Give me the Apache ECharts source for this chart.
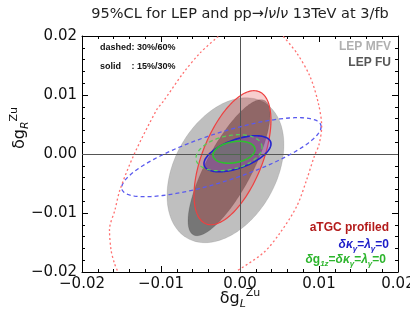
<!DOCTYPE html>
<html><head><meta charset="utf-8">
<script src="https://cdn.jsdelivr.net/npm/echarts@6/dist/echarts.min.js"></script>
<style>html,body{margin:0;padding:0;background:#fff}#c{width:410px;height:323px}</style>
</head><body><div id="c"></div>
<script>
// axis
const axisMin = -0.02, axisMax = 0.02, axisStep = 0.01;
const tickLabels = ['\u22120.02', '\u22120.01', '0.00', '0.01', '0.02'];

// ellipses: [centerX, centerY, halfWidthX, halfHeightY, correlation]
const lepMFV    = [-0.00184, -0.00275, 0.0074,  0.01229, 0.35];
const lepFU     = [-0.00139, -0.00232, 0.00519, 0.01153, 0.78];
const atgcSolid = [-0.00095, -0.00063, 0.00487, 0.01136, 0.56];
const kgSolid   = [-0.00032,  0.00004, 0.00424, 0.00305, 0.55];
const kgDashed  = [-0.00235, -0.00054, 0.01262, 0.0067,  0.77];
const g1zSolid  = [-0.00076,  0.0003,  0.00266, 0.00186, 0.25];
const g1zDashed = [-0.00139,  0.00022, 0.00418, 0.00305, 0.30];

// aTGC profiled, 60% (dotted) contour, traced points [x, y]
const atgcDottedLeft = [
  [-0.00275, 0.01993], [-0.00506, 0.01712], [-0.00718, 0.01373], [-0.00971, 0.00892],
  [-0.01054, 0.00751], [-0.01338, 0.0], [-0.01519, -0.00605], [-0.01582, -0.00944],
  [-0.01652, -0.01283], [-0.01633, -0.01622], [-0.01591, -0.01847], [-0.01548, -0.0199]
];
const atgcDottedRight = [
  [0.00548, 0.01993], [0.00718, 0.01712], [0.00886, 0.01315], [0.00991, 0.00864],
  [0.01034, 0.00468], [0.01000, 0.00158], [0.00940, -0.00041], [0.00844, -0.00436],
  [0.00718, -0.00888], [0.00506, -0.01339], [0.00295, -0.01678], [-0.00051, -0.0199]
];

function ellipseSeries(name, params, style, z) {
  return {
    type: 'custom', name: name, z: z,
    dimensions: ['x', 'y', 'sx', 'sy', 'rho'],
    encode: { x: 0, y: 1 },
    data: [params],
    silent: true,
    renderItem: function (p, api) {
      const cx = api.value(0), cy = api.value(1), sx = api.value(2), sy = api.value(3), r = api.value(4);
      const s = Math.sqrt(1 - r * r);
      const pts = [];
      const N = 160;
      for (let i = 0; i < N; i++) {
        const t = 2 * Math.PI * i / N;
        pts.push(api.coord([cx + sx * Math.cos(t), cy + sy * (r * Math.cos(t) + s * Math.sin(t))]));
      }
      return { type: 'polygon', shape: { points: pts }, style: Object.assign({}, style) };
    }
  };
}

const FONT = 'DejaVu Sans';
const AR = 'Liberation Sans';
const fmt = function (v) { return tickLabels[Math.round((v - axisMin) / axisStep)]; };

function axisCommon(extra) {
  return Object.assign({
    type: 'value', min: axisMin, max: axisMax, interval: axisStep,
    axisLine: { show: true, onZero: false, lineStyle: { color: '#000', width: 1 } },
    axisTick: { show: true, inside: true, length: 6, lineStyle: { color: '#000', width: 1 } },
    minorTick: { show: true, splitNumber: 5, length: 3, lineStyle: { color: '#000', width: 1 } },
    splitLine: { show: false },
    minorSplitLine: { show: false }
  }, extra);
}

const option = {
  animation: false,
  backgroundColor: '#fff',
  grid: { left: 82, right: 12, top: 36, bottom: 51, containLabel: false, outerBoundsMode: 'none' },
  xAxis: [
    axisCommon({ position: 'bottom', axisLabel: { show: true, margin: 5, fontFamily: FONT, fontSize: 15, color: '#111', formatter: fmt } }),
    axisCommon({ position: 'top', axisLabel: { show: false } })
  ],
  yAxis: [
    axisCommon({ position: 'left', axisLabel: { show: true, margin: 5, fontFamily: FONT, fontSize: 15, color: '#111', formatter: fmt } }),
    axisCommon({ position: 'right', axisLabel: { show: false } })
  ],
  series: [
    ellipseSeries('LEP MFV', lepMFV, { fill: 'rgba(0,0,0,0.25)', stroke: 'rgba(0,0,0,0.12)', lineWidth: 0.8 }, 1),
    ellipseSeries('LEP FU', lepFU, { fill: 'rgba(0,0,0,0.38)', stroke: 'rgba(0,0,0,0.15)', lineWidth: 0.8 }, 2),
    ellipseSeries('aTGC profiled', atgcSolid, { fill: 'rgba(225,60,60,0.25)', stroke: '#ee4040', lineWidth: 1.2 }, 3),
    ellipseSeries('kg solid', kgSolid, { fill: 'rgba(110,60,230,0.28)', stroke: '#2323cc', lineWidth: 1.6 }, 4),
    ellipseSeries('g1z solid', g1zSolid, { fill: 'rgba(60,170,60,0.22)', stroke: '#2fbf2f', lineWidth: 1.6 }, 5),
    ellipseSeries('kg dashed', kgDashed, { fill: 'none', stroke: '#5a5aee', lineWidth: 1.3, lineDash: [4, 3] }, 6),
    ellipseSeries('g1z dashed', g1zDashed, { fill: 'none', stroke: '#55cc55', lineWidth: 1.3, lineDash: [4, 3] }, 6),
    {
      type: 'line', name: 'aTGC dotted L', data: atgcDottedLeft, smooth: 0.3, showSymbol: false, symbol: 'none',
      clip: true, z: 7, silent: true,
      lineStyle: { color: '#ff7070', width: 1.3, type: [2, 2.5] }
    },
    {
      type: 'line', name: 'aTGC dotted R', data: atgcDottedRight, smooth: 0.3, showSymbol: false, symbol: 'none',
      clip: true, z: 7, silent: true,
      lineStyle: { color: '#ff7070', width: 1.3, type: [2, 2.5] },
      markLine: {
        silent: true, symbol: 'none', label: { show: false }, animation: false,
        lineStyle: { color: '#555', width: 1, type: 'solid' },
        data: [{ xAxis: 0 }, { yAxis: 0 }]
      }
    }
  ],
  graphic: [
    { type: 'text', x: 240, y: 14, z: 100, style: {
      text: '{n|95%CL for LEP and pp\u2192}{i|l\u03bdl\u03bd}{n| 13TeV at 3/fb}',
      align: 'center', verticalAlign: 'middle', textAlign: 'center', textVerticalAlign: 'middle',
      rich: { n: { fontFamily: FONT, fontSize: 14.5, fill: '#222', color: '#222' },
              i: { fontFamily: FONT, fontSize: 14.5, fontStyle: 'italic', fill: '#222', color: '#222' } } } },
    { type: 'text', x: 100, y: 48, z: 100, style: { text: 'dashed: 30%/60%', fontFamily: AR, fontWeight: 'bold', fontSize: 9, fill: '#111',
      align: 'left', verticalAlign: 'middle', textAlign: 'left', textVerticalAlign: 'middle' } },
    { type: 'text', x: 100, y: 67, z: 100, style: { text: 'solid', fontFamily: AR, fontWeight: 'bold', fontSize: 9, fill: '#111',
      align: 'left', verticalAlign: 'middle', textAlign: 'left', textVerticalAlign: 'middle' } },
    { type: 'text', x: 131.5, y: 67, z: 100, style: { text: ': 15%/30%', fontFamily: AR, fontWeight: 'bold', fontSize: 9, fill: '#111',
      align: 'left', verticalAlign: 'middle', textAlign: 'left', textVerticalAlign: 'middle' } },
    { type: 'text', x: 391, y: 47, z: 100, style: { text: 'LEP MFV', fontFamily: AR, fontWeight: 'bold', fontSize: 12, fill: '#b0b0b0',
      align: 'right', verticalAlign: 'middle', textAlign: 'right', textVerticalAlign: 'middle' } },
    { type: 'text', x: 391, y: 63, z: 100, style: { text: 'LEP FU', fontFamily: AR, fontWeight: 'bold', fontSize: 12, fill: '#555',
      align: 'right', verticalAlign: 'middle', textAlign: 'right', textVerticalAlign: 'middle' } },
    { type: 'text', x: 389, y: 228, z: 100, style: { text: 'aTGC profiled', fontFamily: AR, fontWeight: 'bold', fontSize: 12, fill: '#b31b1b',
      align: 'right', verticalAlign: 'middle', textAlign: 'right', textVerticalAlign: 'middle' } },
    { type: 'text', x: 389, y: 245, z: 100, style: {
      text: '{g|\u03b4\u03ba}{s|\u03b3}{n|=}{g|\u03bb}{s|\u03b3}{n|=0}',
      align: 'right', verticalAlign: 'middle', textAlign: 'right', textVerticalAlign: 'middle',
      rich: {
        g: { fontFamily: AR, fontWeight: 'bold', fontStyle: 'italic', fontSize: 12, fill: '#1c1cc8', color: '#1c1cc8', lineHeight: 16, verticalAlign: 'middle' },
        n: { fontFamily: AR, fontWeight: 'bold', fontSize: 12, fill: '#1c1cc8', color: '#1c1cc8', lineHeight: 16, verticalAlign: 'middle' },
        s: { fontFamily: AR, fontWeight: 'bold', fontStyle: 'italic', fontSize: 8, fill: '#1c1cc8', color: '#1c1cc8', lineHeight: 8, verticalAlign: 'bottom' }
      } } },
    { type: 'text', x: 386, y: 260, z: 100, style: {
      text: '{g|\u03b4}{n|g}{s|1z}{n|=}{g|\u03b4\u03ba}{s|\u03b3}{n|=}{g|\u03bb}{s|\u03b3}{n|=0}',
      align: 'right', verticalAlign: 'middle', textAlign: 'right', textVerticalAlign: 'middle',
      rich: {
        g: { fontFamily: AR, fontWeight: 'bold', fontStyle: 'italic', fontSize: 12, fill: '#2db52d', color: '#2db52d', lineHeight: 16, verticalAlign: 'middle' },
        n: { fontFamily: AR, fontWeight: 'bold', fontSize: 12, fill: '#2db52d', color: '#2db52d', lineHeight: 16, verticalAlign: 'middle' },
        s: { fontFamily: AR, fontWeight: 'bold', fontStyle: 'italic', fontSize: 8, fill: '#2db52d', color: '#2db52d', lineHeight: 8, verticalAlign: 'bottom' }
      } } },
    { type: 'text', x: 240, y: 299, z: 100, style: {
      text: '{a|\u03b4g}{b|L}{c|Zu}',
      align: 'center', verticalAlign: 'middle', textAlign: 'center', textVerticalAlign: 'middle',
      rich: {
        a: { fontFamily: FONT, fontSize: 16, fill: '#111', color: '#111', lineHeight: 22, verticalAlign: 'middle' },
        b: { fontFamily: FONT, fontSize: 11, fontStyle: 'italic', fill: '#111', color: '#111', lineHeight: 11, verticalAlign: 'bottom' },
        c: { fontFamily: FONT, fontSize: 11, fill: '#111', color: '#111', lineHeight: 11, verticalAlign: 'top' }
      } } },
    { type: 'text', x: 20, y: 128, rotation: Math.PI / 2, z: 100, style: {
      text: '{a|\u03b4g}{b|R}{c|Zu}',
      align: 'center', verticalAlign: 'middle', textAlign: 'center', textVerticalAlign: 'middle',
      rich: {
        a: { fontFamily: FONT, fontSize: 16, fill: '#111', color: '#111', lineHeight: 22, verticalAlign: 'middle' },
        b: { fontFamily: FONT, fontSize: 11, fontStyle: 'italic', fill: '#111', color: '#111', lineHeight: 11, verticalAlign: 'bottom' },
        c: { fontFamily: FONT, fontSize: 11, fill: '#111', color: '#111', lineHeight: 11, verticalAlign: 'top' }
      } } }
  ]
};

const chart = echarts.init(document.getElementById('c'), null, { renderer: 'canvas' });
chart.setOption(option);
</script>
</body></html>
